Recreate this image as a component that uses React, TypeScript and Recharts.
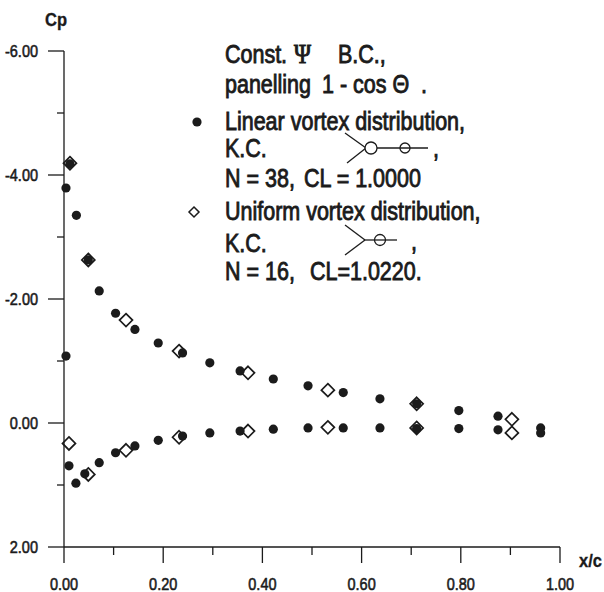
import React from 'react';
import { ScatterChart, Scatter, XAxis, YAxis } from 'recharts';

// linear vortex distribution, N = 38 (upper surface first, then lower)
const linearX = [
  0.004, 0.012, 0.025, 0.049, 0.071, 0.104, 0.143, 0.19, 0.239, 0.294, 0.355, 0.422, 0.492, 0.563, 0.637, 0.711, 0.796, 0.875, 0.961,
  0.004, 0.01, 0.024, 0.042, 0.071, 0.104, 0.143, 0.19, 0.239, 0.294, 0.355, 0.422, 0.492, 0.563, 0.637, 0.711, 0.796, 0.875, 0.961,
];
const linearCp = [
  -3.79, -4.18, -3.35, -2.63, -2.13, -1.77, -1.51, -1.29, -1.13, -0.97, -0.84, -0.71, -0.6, -0.49, -0.39, -0.31, -0.2, -0.11, 0.08,
  -1.08, 0.69, 0.97, 0.82, 0.64, 0.48, 0.37, 0.28, 0.21, 0.16, 0.13, 0.1, 0.08, 0.08, 0.08, 0.09, 0.09, 0.11, 0.16,
];

// uniform vortex distribution, N = 16
const uniformX = [
  0.012, 0.049, 0.125, 0.232, 0.371, 0.532, 0.711, 0.903,
  0.01, 0.049, 0.125, 0.232, 0.371, 0.532, 0.711, 0.903,
];
const uniformCp = [
  -4.19, -2.63, -1.66, -1.16, -0.81, -0.53, -0.31, -0.06,
  0.33, 0.83, 0.44, 0.23, 0.13, 0.07, 0.08, 0.16,
];

const xTicks = [0, 0.1, 0.2, 0.3, 0.4, 0.5, 0.6, 0.7, 0.8, 0.9, 1];
const yTicks = [-6, -5, -4, -3, -2, -1, 0, 1, 2];

const linearData = linearX.map((x, i) => ({ x, cp: linearCp[i] }));
const uniformData = uniformX.map((x, i) => ({ x, cp: uniformCp[i] }));

const ink = '#1b1b1b';
const font = '"Liberation Sans", Arial, sans-serif';
// the scanned figure is stretched a little vertically
const SY = 1.16;

// text helper: baseline at (x, y), stretched like the scan
const T = ({ x, y, size = 21.5, anchor = 'start', weight = 'normal', family = font, sw = 0.75, children }: any) => (
  <text
    transform={`translate(${x},${y}) scale(1,${SY})`}
    textAnchor={anchor}
    fontFamily={family}
    fontSize={size}
    fontWeight={weight}
    fill={ink}
    stroke={ink}
    strokeWidth={sw}
  >
    {children}
  </text>
);

const XTick = (props: any) => {
  const { x, y, payload } = props;
  const major = Math.round(payload.value * 10) % 2 === 0;
  return (
    <g>
      <line x1={x} x2={x} y1={y} y2={y + (major ? 16 : 8)} stroke={ink} strokeWidth={1.3} />
      {major && (
        <T x={x} y={y + 42.5} size={14.5} anchor="middle" sw={0.5}>
          {payload.value.toFixed(2)}
        </T>
      )}
    </g>
  );
};

const YTick = (props: any) => {
  const { x, y, payload } = props;
  const major = payload.value % 2 === 0;
  return (
    <g>
      <line x1={x - (major ? 16 : 7)} x2={x} y1={y} y2={y} stroke={ink} strokeWidth={1.3} />
      {major && (
        <T x={x - 26} y={y + 6} size={14.5} anchor="end" sw={0.5}>
          {(payload.value < 0 ? '-' : '') + Math.abs(payload.value).toFixed(2)}
        </T>
      )}
    </g>
  );
};

const Dot = (p: any) => <circle cx={p.cx} cy={p.cy} r={4.6} fill={ink} />;
const Diamond = (p: any) => (
  <polygon
    points={`${p.cx},${p.cy - 6.5} ${p.cx + 6.5},${p.cy} ${p.cx},${p.cy + 6.5} ${p.cx - 6.5},${p.cy}`}
    fill="none"
    stroke={ink}
    strokeWidth={1.7}
  />
);

export default function App() {
  return (
    <div style={{ position: 'absolute', left: 0, top: 0, width: 604, height: 592, background: '#fff', overflow: 'hidden' }}>
      <ScatterChart width={604} height={592} margin={{ top: 51, right: 44, bottom: 15, left: 0 }}>
        <XAxis
          type="number"
          dataKey="x"
          domain={[0, 1]}
          ticks={xTicks}
          interval={0}
          tickSize={0}
          tickMargin={0}
          tickLine={false}
          tick={<XTick />}
          height={30}
          axisLine={{ stroke: ink, strokeWidth: 1.3 }}
        />
        <YAxis
          type="number"
          dataKey="cp"
          domain={[-6, 2]}
          reversed
          ticks={yTicks}
          interval={0}
          tickSize={0}
          tickMargin={0}
          tickLine={false}
          tick={<YTick />}
          width={64}
          axisLine={{ stroke: ink, strokeWidth: 1.3 }}
        />
        <Scatter data={uniformData} shape={<Diamond />} isAnimationActive={false} />
        <Scatter data={linearData} shape={<Dot />} isAnimationActive={false} />
      </ScatterChart>
      <svg width={604} height={592} style={{ position: 'absolute', left: 0, top: 0, pointerEvents: 'none' }}>
        <T x={45} y={26} size={16.5} weight="bold" sw={0.3}>Cp</T>
        <T x={579} y={567} size={16.5} weight="bold" sw={0.3}>x/c</T>

        <T x={225} y={63}>Const.</T>
        <T x={294} y={63} size={23} family='"Liberation Serif", serif' sw={0.9}>Ψ</T>
        <T x={338} y={63}>B.C.,</T>
        <T x={225} y={93}>panelling</T>
        <T x={322} y={93}>1 - cos Θ</T>
        <T x={421} y={93}>.</T>

        <circle cx={197} cy={122} r={4.6} fill={ink} />
        <T x={225} y={130}>Linear vortex distribution,</T>
        <T x={225} y={157}>K.C.</T>
        <g stroke={ink} strokeWidth={1.3} fill="none">
          <line x1={345} y1={133} x2={366} y2={148} />
          <line x1={347} y1={163} x2={366} y2={148} />
          <line x1={377} y1={148} x2={428} y2={148} />
          <circle cx={371} cy={148} r={6} fill="#fff" />
          <circle cx={405} cy={148} r={5} />
        </g>
        <T x={433} y={157}>,</T>
        <T x={225} y={187}>N = 38,</T>
        <T x={304} y={187}>CL = 1.0000</T>

        <polygon points="194,207 199,212 194,217 189,212" fill="none" stroke={ink} strokeWidth={1.5} />
        <T x={225} y={220}>Uniform vortex distribution,</T>
        <T x={225} y={252}>K.C.</T>
        <g stroke={ink} strokeWidth={1.3} fill="none">
          <line x1={345} y1={225} x2={365} y2={240} />
          <line x1={345} y1={255} x2={365} y2={240} />
          <line x1={365} y1={240} x2={397} y2={240} />
          <circle cx={380} cy={240} r={5.5} />
        </g>
        <T x={411} y={250}>,</T>
        <T x={225} y={280}>N = 16,</T>
        <T x={310} y={280}>CL=1.0220.</T>
      </svg>
    </div>
  );
}
